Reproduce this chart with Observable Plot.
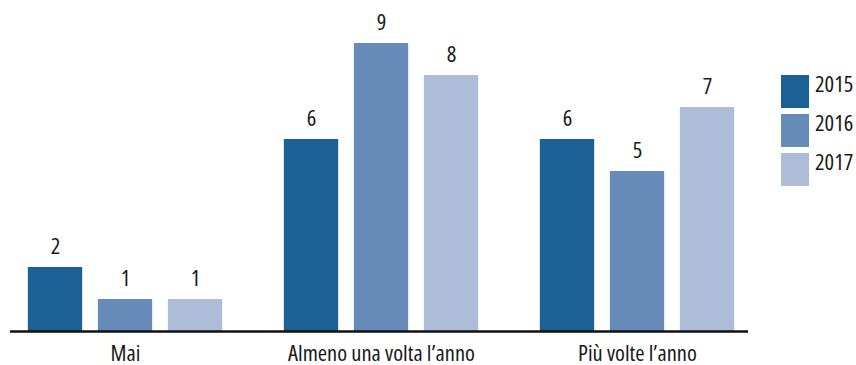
<!DOCTYPE html>
<html>
<head>
<meta charset="utf-8">
<script src="https://cdn.jsdelivr.net/npm/d3@7"></script>
<script src="https://cdn.jsdelivr.net/npm/@observablehq/plot@0.6"></script>
<style>
  html, body { margin: 0; padding: 0; background: #fff; }
  #wrap { position: relative; width: 856px; height: 365px; font-family: "Open Sans", sans-serif; font-stretch: condensed; color: #1a1a1a; }
  #legend { position: absolute; left: 781px; top: 75px; }
  .item { position: relative; height: 39px; }
  .sw { position: absolute; left: 0; top: 0; width: 28px; height: 33px; }
  .lab { position: absolute; left: 34px; top: -1px; font-size: 22.5px; line-height: 20px; white-space: nowrap; font-stretch: condensed; }
  svg text { font-stretch: condensed; }
</style>
</head>
<body>
<div id="wrap"><div id="chart"></div><div id="legend"></div></div>
<script>
const categories = ["Mai", "Almeno una volta l’anno", "Più volte l’anno"];
const years = ["2015", "2016", "2017"];
const values2015 = [2, 6, 6];
const values2016 = [1, 9, 5];
const values2017 = [1, 8, 7];
const colors = ["#1b6195", "#678bb8", "#adbdd8"];

const series = [values2015, values2016, values2017];
const rows = [];
years.forEach((yr, k) => categories.forEach((c, i) => rows.push({category: c, year: yr, value: series[k][i]})));

const offsets = [-70, 0, 70];
const inset = (256.67 - 55) / 2;

const marks = [];
years.forEach((yr, k) => {
  const d = rows.filter(r => r.year === yr);
  marks.push(Plot.barY(d, {x: "category", y: "value", fill: "year", dx: offsets[k], insetLeft: inset, insetRight: inset}));
  marks.push(Plot.text(d, {x: "category", y: "value", text: d => String(d.value), dx: offsets[k], dy: -14, lineAnchor: "bottom", fontSize: 22.5, fill: "#1a1a1a"}));
});
marks.push(Plot.ruleY([0], {stroke: "#111", strokeWidth: 2.5}));

const chart = Plot.plot({
  width: 856,
  height: 365,
  marginLeft: 10,
  marginRight: 108,
  marginTop: 43,
  marginBottom: 34,
  style: {fontFamily: "'Open Sans', sans-serif", fontStretch: "condensed", fontSize: "22.5px", color: "#1a1a1a", background: "white", overflow: "visible"},
  x: {domain: categories, range: [-3.75, 766.25], padding: 0, label: null, tickSize: 0, tickPadding: 14},
  y: {domain: [0, 9], axis: null},
  color: {domain: years, range: colors},
  marks
});
document.getElementById("chart").appendChild(chart);

const legend = document.getElementById("legend");
years.forEach((yr, k) => {
  const it = document.createElement("div");
  it.className = "item";
  it.innerHTML = `<div class="sw" style="background:${colors[k]}"></div><div class="lab">${yr}</div>`;
  legend.appendChild(it);
});
</script>
</body>
</html>
